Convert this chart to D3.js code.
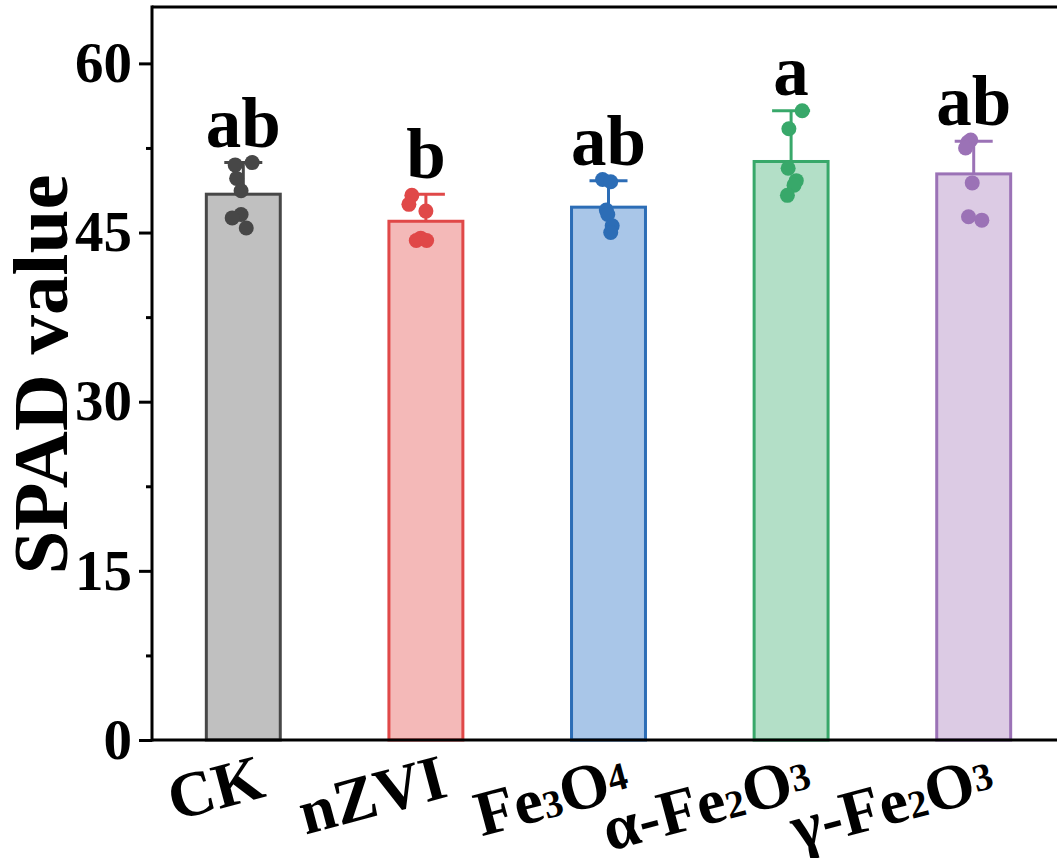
<!DOCTYPE html>
<html>
<head>
<meta charset="utf-8">
<script src="https://cdn.jsdelivr.net/npm/d3@7"></script>
<style>
  html, body { margin: 0; padding: 0; background: #ffffff; }
  svg { display: block; }
  text { font-family: "Liberation Serif", "Times New Roman", serif; font-weight: bold; fill: #000; }
</style>
</head>
<body>
<svg id="chart" width="1057" height="858"></svg>
<script>
// ---- data ----
const categories = ["CK", "nZVI", "Fe3O4", "α-Fe2O3", "γ-Fe2O3"];
// label pieces: [text, kind] kind: n = normal, s = small low digit, u = small raised digit
const labelParts = [
  [["CK", "n"]],
  [["nZVI", "n"]],
  [["Fe", "n"], ["3", "s"], ["O", "n"], ["4", "u"]],
  [["α-Fe", "n"], ["2", "s"], ["O", "n"], ["3", "u"]],
  [["γ-Fe", "n"], ["2", "s"], ["O", "n"], ["3", "u"]]
];
const means = [48.4, 46.0, 47.25, 51.3, 50.2];
const sds = [2.8, 2.4, 2.35, 4.5, 2.9];
const points = [
  [51.2, 51.0, 49.8, 48.7, 46.6, 46.3, 45.4],
  [48.3, 47.5, 46.9, 44.5, 44.3, 44.3],
  [49.7, 49.5, 47.0, 46.6, 45.6, 45.0],
  [55.8, 54.2, 50.7, 49.6, 49.2, 48.3],
  [53.2, 53.0, 52.5, 49.4, 46.4, 46.1]
];
// horizontal jitter of the points (fraction of bar width)
const jitter = [
  [0.12, -0.11, -0.09, -0.03, -0.03, -0.15, 0.04],
  [-0.19, -0.23, 0.0, -0.07, -0.13, 0.01],
  [-0.08, 0.03, -0.03, -0.01, 0.05, 0.03],
  [0.15, -0.03, -0.04, 0.07, 0.04, -0.05],
  [-0.04, -0.08, -0.11, -0.02, -0.07, 0.11]
];
const sigLetters = ["ab", "b", "ab", "a", "ab"];
const yTicks = [0, 15, 30, 45, 60];
const yMinorTicks = [7.5, 22.5, 37.5, 52.5];
const fills = ["#c0c0c0", "#f4b9b8", "#a9c6e8", "#b3dfc7", "#dccbe4"];
const strokes = ["#474747", "#e04848", "#2c6db6", "#38a86a", "#9b72b6"];

// ---- layout ----
const svg = d3.select("#chart");
const leftX = 152, topY = 7, bottomY = 740, rightX = 1065;

const x = d3.scaleBand().domain(categories).range([leftX, rightX]).paddingInner(0.595).paddingOuter(0.2975);
const y = d3.scaleLinear().domain([0, 65]).range([bottomY, topY]);
const bw = x.bandwidth();

// bars
const g = svg.append("g");
categories.forEach((c, i) => {
  const cx = x(c) + bw / 2;
  g.append("rect")
    .attr("x", x(c)).attr("y", y(means[i]))
    .attr("width", bw).attr("height", y(0) - y(means[i]))
    .attr("fill", fills[i]).attr("stroke", strokes[i]).attr("stroke-width", 3);
  // error bar (upper)
  const capY = y(means[i] + sds[i]);
  g.append("line").attr("x1", cx).attr("x2", cx).attr("y1", y(means[i])).attr("y2", capY)
    .attr("stroke", strokes[i]).attr("stroke-width", 3);
  g.append("line").attr("x1", cx - 19).attr("x2", cx + 19).attr("y1", capY).attr("y2", capY)
    .attr("stroke", strokes[i]).attr("stroke-width", 3);
  // points
  points[i].forEach((v, j) => {
    g.append("circle").attr("cx", cx + jitter[i][j] * bw).attr("cy", y(v)).attr("r", 7.5)
      .attr("fill", strokes[i]);
  });
  // significance letters
  svg.append("text").attr("x", cx).attr("y", capY - 16).attr("text-anchor", "middle")
    .attr("font-size", 71).text(sigLetters[i]);
});

// frame line top
svg.append("line").attr("x1", leftX).attr("x2", rightX).attr("y1", topY).attr("y2", topY)
  .attr("stroke", "#000").attr("stroke-width", 3);

// y axis
const yAxis = d3.axisLeft(y).tickValues(yTicks).tickSize(13).tickPadding(7).tickFormat(d3.format("d"));
const ya = svg.append("g").attr("transform", `translate(${leftX},0)`).call(yAxis);
ya.select(".domain").remove();
ya.selectAll(".tick line").attr("stroke", "#000").attr("stroke-width", 3);
ya.selectAll(".tick text").attr("font-size", 57).attr("font-family", "Liberation Serif").attr("font-weight", "bold").attr("fill", "#000");
const yMinor = d3.axisLeft(y).tickValues(yMinorTicks).tickSize(6).tickFormat("");
const ym = svg.append("g").attr("transform", `translate(${leftX},0)`).call(yMinor);
ym.select(".domain").remove();
ym.selectAll(".tick line").attr("stroke", "#000").attr("stroke-width", 3);

svg.append("line").attr("x1", leftX).attr("x2", leftX).attr("y1", topY - 1.5).attr("y2", bottomY + 1.5)
  .attr("stroke", "#000").attr("stroke-width", 3);
svg.append("line").attr("x1", leftX).attr("x2", rightX).attr("y1", bottomY).attr("y2", bottomY)
  .attr("stroke", "#000").attr("stroke-width", 3);

// y label
svg.append("text").attr("transform", `translate(67, ${(topY + bottomY) / 2 + 1}) rotate(-90)`)
  .attr("text-anchor", "middle").attr("font-size", 79).text("SPAD value");

// x labels
categories.forEach((c, i) => {
  const cx = x(c) + bw / 2;
  const t = svg.append("text").attr("text-anchor", "end").attr("font-size", 64)
    .attr("transform", `translate(${cx + 24}, 796) rotate(-15)`);
  labelParts[i].forEach(([s, k]) => {
    const ts = t.append("tspan").text(s);
    if (k === "s") ts.attr("font-size", 39);
    if (k === "u") ts.attr("font-size", 39).attr("baseline-shift", "9px");
  });
});
</script>
</body>
</html>
